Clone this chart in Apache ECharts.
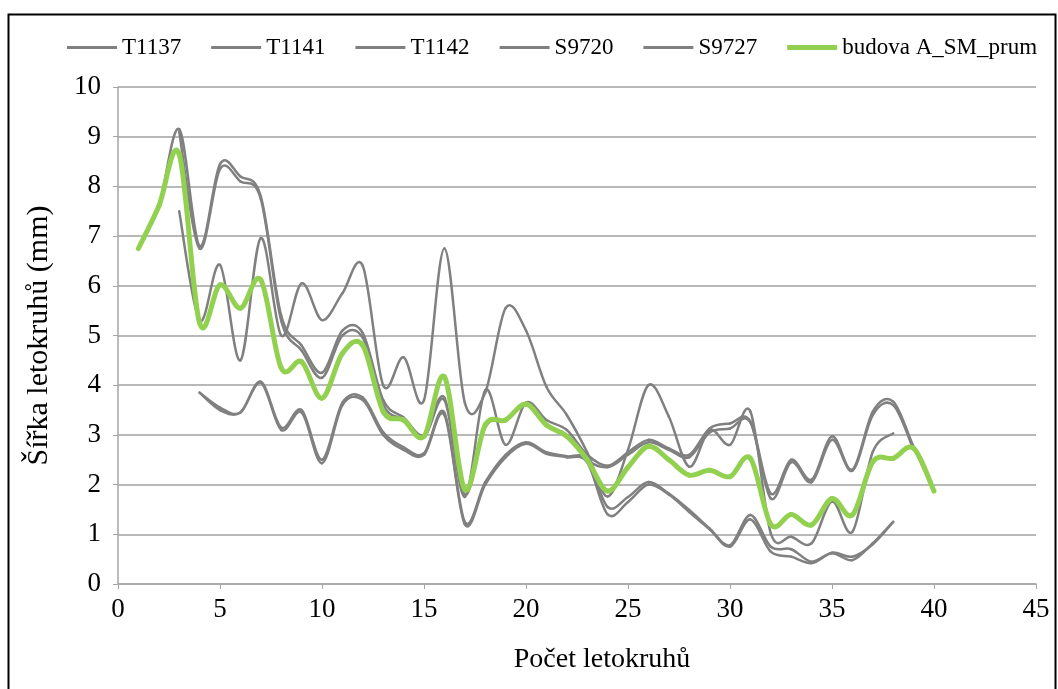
<!DOCTYPE html>
<html>
<head>
<meta charset="utf-8">
<script src="https://cdn.jsdelivr.net/npm/echarts@6/dist/echarts.min.js"></script>
<style>
html,body{margin:0;padding:0;background:#fff;}
#chart{width:1058px;height:689px;}
</style>
</head>
<body>
<div id="chart"></div>
<script>
// šířky letokruhů (mm), index = počet letokruhů od startu
var names = ['T1137', 'T1141', 'T1142', 'S9720', 'S9727', 'budova A_SM_prum'];
var starts = [1, 3, 3, 4, 4, 1];

var t1137 = [6.75,7.6,9.15,6.8,8.45,8.2,7.8,5.4,4.8,4.25,5.1,5.05,3.7,3.35,3.0,3.75,1.75,3.9,2.8,3.65,
             3.3,3.1,2.6,2.38,2.65,2.9,2.73,2.6,3.13,3.23,3.27,1.82,2.5,2.1,2.97,2.3,3.47,3.67,2.76,1.87];
var t1141 = [9.1,6.75,8.35,8.1,7.75,5.3,4.7,4.15,5.0,4.95,3.6,3.3,2.95,3.7,1.8,3.15,3.3,3.6,
             3.2,3.0,2.5,2.35,2.6,2.85,2.7,2.55,3.05,3.13,3.25,1.72,2.45,2.05,2.9,2.28,3.4,3.6,2.7];
var t1142 = [7.5,5.3,6.42,4.5,6.96,5.0,6.05,5.31,5.85,6.4,4.0,4.56,3.7,6.75,3.65,3.85,5.55,5.1,
             3.97,3.4,2.65,1.76,2.7,4.0,3.37,2.36,3.1,2.8,3.47,1.02,0.95,0.82,1.66,1.05,2.66,3.03];
var s9720 = [3.85,3.55,3.45,4.07,3.15,3.5,2.5,3.65,3.75,3.05,2.75,2.63,3.45,1.25,2.05,2.6,2.85,
             2.65,2.57,2.5,1.55,1.75,2.05,1.82,1.49,1.12,0.78,1.39,0.75,0.7,0.45,0.62,0.48,0.82,1.25];
var s9727 = [3.85,3.5,3.45,4.05,3.1,3.45,2.43,3.6,3.7,3.0,2.7,2.6,3.4,1.2,2.0,2.55,2.82,
             2.62,2.55,2.45,1.4,1.65,2.0,1.8,1.45,1.1,0.75,1.3,0.65,0.55,0.42,0.63,0.55,0.8,1.25];
var prumer = [6.75,7.6,8.65,5.25,6.02,5.55,6.12,4.35,4.47,3.74,4.64,4.8,3.47,3.3,2.97,4.17,1.9,3.2,3.3,3.62,
              3.2,2.97,2.5,1.87,2.35,2.77,2.5,2.19,2.29,2.16,2.53,1.2,1.4,1.19,1.72,1.39,2.46,2.53,2.73,1.87];

var values = [t1137, t1141, t1142, s9720, s9727, prumer];

function pairs(arr, start) {
    return arr.map(function (v, i) { return [start + i, v]; });
}

var font = 'Liberation Serif, Times New Roman, serif';
var grey = '#808080', green = '#92d050';
var myChart = echarts.init(document.getElementById('chart'));

// vyhlazení jako v Excelu (Catmull-Rom), každý úsek jako bezierova křivka
function smoothRender(pts, color, width) {
    return function (params, api) {
        var i = params.dataIndex;
        if (i >= pts.length - 1) return null;
        var c = function (j) {
            j = Math.max(0, Math.min(pts.length - 1, j));
            return api.coord(pts[j]);
        };
        var p0 = c(i - 1), p1 = c(i), p2 = c(i + 1), p3 = c(i + 2);
        return {
            type: 'bezierCurve',
            shape: {
                x1: p1[0], y1: p1[1], x2: p2[0], y2: p2[1],
                cpx1: p1[0] + (p2[0] - p0[0]) / 6, cpy1: p1[1] + (p2[1] - p0[1]) / 6,
                cpx2: p2[0] - (p3[0] - p1[0]) / 6, cpy2: p2[1] - (p3[1] - p1[1]) / 6
            },
            style: { stroke: color, lineWidth: width, fill: null, lineCap: 'round' },
            silent: true
        };
    };
}

var series = values.map(function (arr, k) {
    var avg = k === 5;
    var pts = pairs(arr, starts[k]);
    var color = avg ? green : grey;
    return {
        name: names[k],
        type: 'custom',
        coordinateSystem: 'cartesian2d',
        encode: { x: 0, y: 1 },
        itemStyle: { color: color },
        renderItem: smoothRender(pts, color, avg ? 5 : 2.5),
        data: pts
    };
});

var option = {
    animation: false,
    backgroundColor: '#fff',
    graphic: [{
        type: 'rect',
        left: 6, top: 12,
        shape: { width: 1047, height: 700 },
        style: { fill: 'none', stroke: '#000', lineWidth: 2 },
        silent: true
    }],
    legend: {
        left: 62,
        top: 31,
        itemWidth: 50,
        itemHeight: 14,
        itemGap: 30,
        symbolKeepAspect: true,
        textStyle: { fontFamily: font, fontSize: 23, color: '#000' },
        data: names.map(function (n, k) {
            return { name: n, icon: k === 5 ? 'path://M0,0H50V5H0Z' : 'path://M0,0H50V3H0Z' };
        })
    },
    grid: { left: 118, right: 22, top: 87, bottom: 105 },
    xAxis: {
        type: 'value',
        min: 0, max: 45, interval: 5,
        name: 'Počet letokruhů',
        nameLocation: 'middle',
        nameGap: 62,
        nameTextStyle: { fontFamily: font, fontSize: 28, color: '#000', padding: [0, 0, 0, 50] },
        axisLine: { lineStyle: { color: '#a6a6a6', width: 1.5 } },
        axisTick: { show: true, length: 5, lineStyle: { color: '#a6a6a6' } },
        axisLabel: { fontFamily: font, fontSize: 27, color: '#000', margin: 12 },
        splitLine: { show: false }
    },
    yAxis: {
        type: 'value',
        min: 0, max: 10, interval: 1,
        name: 'Šířka letokruhů (mm)',
        nameLocation: 'middle',
        nameRotate: 90,
        nameGap: 64,
        nameTextStyle: { fontFamily: font, fontSize: 30, color: '#000' },
        axisLine: { show: true, lineStyle: { color: '#a6a6a6', width: 1.5 } },
        axisTick: { show: true, length: 5, lineStyle: { color: '#a6a6a6' } },
        axisLabel: { fontFamily: font, fontSize: 27, color: '#000', margin: 17 },
        splitLine: { lineStyle: { color: '#a0a0a0', width: 1.5 } }
    },
    series: series
};

myChart.setOption(option);
</script>
</body>
</html>
